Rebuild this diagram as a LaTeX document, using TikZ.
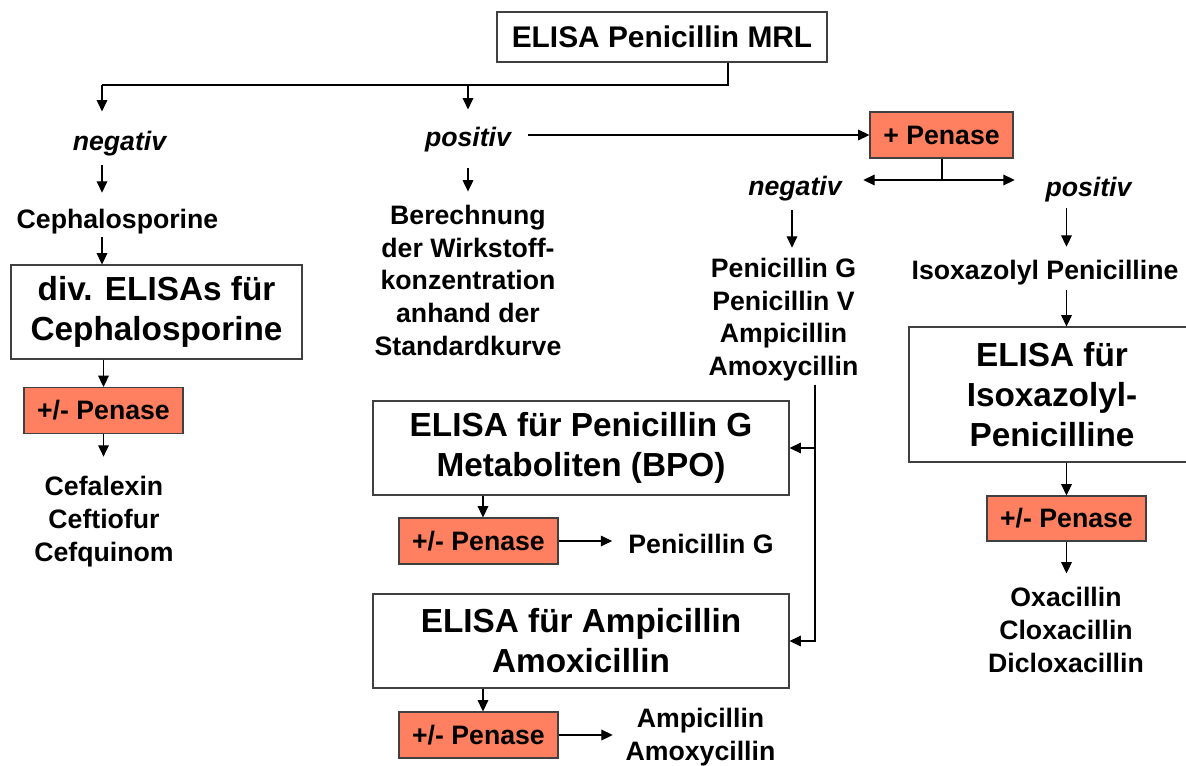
\documentclass[tikz,border=0pt]{standalone}
\usepackage{fontspec}
\setmainfont{Liberation Sans}
\usetikzlibrary{arrows.meta}
\definecolor{penfill}{RGB}{255,128,96}
\definecolor{boxline}{RGB}{64,64,64}
\newcommand\fsmall{\fontsize{20pt}{24.4pt}\selectfont\bfseries}
\newcommand\flab{\fontsize{20pt}{24.4pt}\selectfont\bfseries\itshape}
\newcommand\fbig{\fontsize{25pt}{30pt}\selectfont\bfseries}
\newcommand\ftop{\fontsize{22.4pt}{27pt}\selectfont\bfseries}
\tikzset{
  box/.style={draw=boxline, line width=0.8pt, fill=white, inner sep=0pt, align=center, font=\fbig},
  penbox/.style={draw=boxline, line width=0.8pt, fill=penfill, inner sep=0pt, minimum width=119.25pt, minimum height=34.5pt, font=\fsmall},
  txt/.style={inner sep=0pt, align=center, font=\fsmall, anchor=base},
  lab/.style={inner sep=0pt, font=\flab, anchor=base},
  ln/.style={line width=0.8pt},
  arr/.style={line width=0.8pt, -{Triangle[length=8.5pt,width=8pt]}}
}
\begin{document}
\begin{tikzpicture}[x=0.75pt,y=-0.75pt]
\useasboundingbox (0,0) rectangle (1186,765);
% boxes
\node[box, font=\ftop, minimum width=247.5pt, minimum height=37.5pt] (top) at (662,37) {ELISA Penicillin MRL};
\node[penbox, minimum width=107.25pt] (pen1) at (941.5,135) {+ Penase};
\node[box, minimum width=218.25pt, minimum height=70.5pt] (div) at (156.5,312) {div. ELISAs für\\Cephalosporine};
\node[penbox] (pen2) at (103.5,410.5) {+/- Penase};
\node[box, minimum width=312pt, minimum height=70.5pt] (boxG) at (581,448) {ELISA für Penicillin G\\Metaboliten (BPO)};
\node[penbox] (pen3) at (478.5,541) {+/- Penase};
\node[box, minimum width=312pt, minimum height=70.5pt] (boxA) at (581,641) {ELISA für Ampicillin\\Amoxicillin};
\node[penbox] (pen4) at (478.5,735) {+/- Penase};
\node[box, minimum width=214.5pt, minimum height=101.25pt] (boxI) at (1052,394.5) {ELISA für\\Isoxazolyl-\\Penicilline};
\node[penbox, minimum height=33.75pt] (pen5) at (1066.5,518.5) {+/- Penase};
% texts (multi-line: anchor at baseline of last line)
\node[lab] (negL) at (119.5,150) {negativ};
\node[lab] (posM) at (468,146) {positiv};
\node[lab] (negR) at (795,195) {negativ};
\node[lab] (posR) at (1088.5,196) {positiv};
\node[txt] (ceph) at (117.5,228) {Cephalosporine};
\node[txt] (berech) at (468,355) {Berechnung\\der Wirkstoff-\\konzentration\\anhand der\\Standardkurve};
\node[txt] (penlist) at (783.5,375.5) {Penicillin G\\Penicillin V\\Ampicillin\\Amoxycillin};
\node[txt] (isox) at (1045,279) {Isoxazolyl Penicilline};
\node[txt] (cefa) at (104,561) {Cefalexin\\Ceftiofur\\Cefquinom};
\node[txt] (penG) at (701,553) {Penicillin G};
\node[txt] (ampamox) at (700.5,760) {Ampicillin\\Amoxycillin};
\node[txt] (oxa) at (1066,672) {Oxacillin\\Cloxacillin\\Dicloxacillin};
% helper coordinates
\coordinate (bL) at (102,85);
\coordinate (bM) at (468,85);
\coordinate (bR) at (728,85);
\coordinate (sp) at (942,180);
\coordinate (cNR) at (792,0);
\coordinate (cPR) at (1066.5,0);
\coordinate (cV) at (815,0);
\coordinate (cG) at (483,0);
% connectors
\draw[ln] (top.south -| bR) -- (bR) -- (bL);
\draw[arr, shorten >=14.25pt] (bL) -- (negL.north -| bL);
\draw[arr, shorten >=12.75pt] (bM) -- (posM.north -| bM);
\draw[arr, shorten <=7pt, shorten >=11.8pt] (negL.south -| bL) -- (ceph.north -| bL);
\draw[arr, shorten <=2.5pt] (ceph.south -| bL) -- (div.north -| bL);
\draw[arr] (div.south -| pen2.north) -- (pen2.north);
\draw[arr, shorten >=14.8pt] (pen2.south) -- (cefa.north -| pen2.south);
\draw[arr, shorten <=12.3pt, shorten >=10.3pt] (posM.south) -- (berech.north);
\draw[arr, shorten <=12.75pt] (posM.east |- pen1.west) -- (pen1.west);
\draw[ln] (pen1.south -| sp) -- (sp);
\draw[arr, shorten >=16pt] (sp) -- (sp -| negR.east);
\draw[arr, shorten >=22.9pt] (sp) -- (sp -| posR.west);
\draw[arr, shorten <=7pt, shorten >=8pt] (negR.south -| cNR) -- (penlist.north -| cNR);
\draw[arr, shorten <=4.8pt, shorten >=9.5pt] (posR.south -| cPR) -- (isox.north -| cPR);
\draw[arr, shorten <=4pt] (isox.south -| cPR) -- (boxI.north -| cPR);
\draw[arr] (boxI.south -| pen5.north) -- (pen5.north);
\draw[arr, shorten >=10.4pt] (pen5.south) -- (oxa.north -| pen5.south);
\draw[arr, shorten <=2.5pt] (penlist.south -| cV) |- (boxG.east);
\draw[arr, shorten <=2.5pt] (penlist.south -| cV) |- (boxA.east);
\draw[arr] (boxG.south -| cG) -- (pen3.north -| cG);
\draw[arr, shorten >=12pt] (pen3.east) -- (pen3.east -| penG.west);
\draw[arr] (boxA.south -| cG) -- (pen4.north -| cG);
\draw[arr, shorten >=9.5pt] (pen4.east) -- (pen4.east -| ampamox.west);
\end{tikzpicture}
\end{document}
